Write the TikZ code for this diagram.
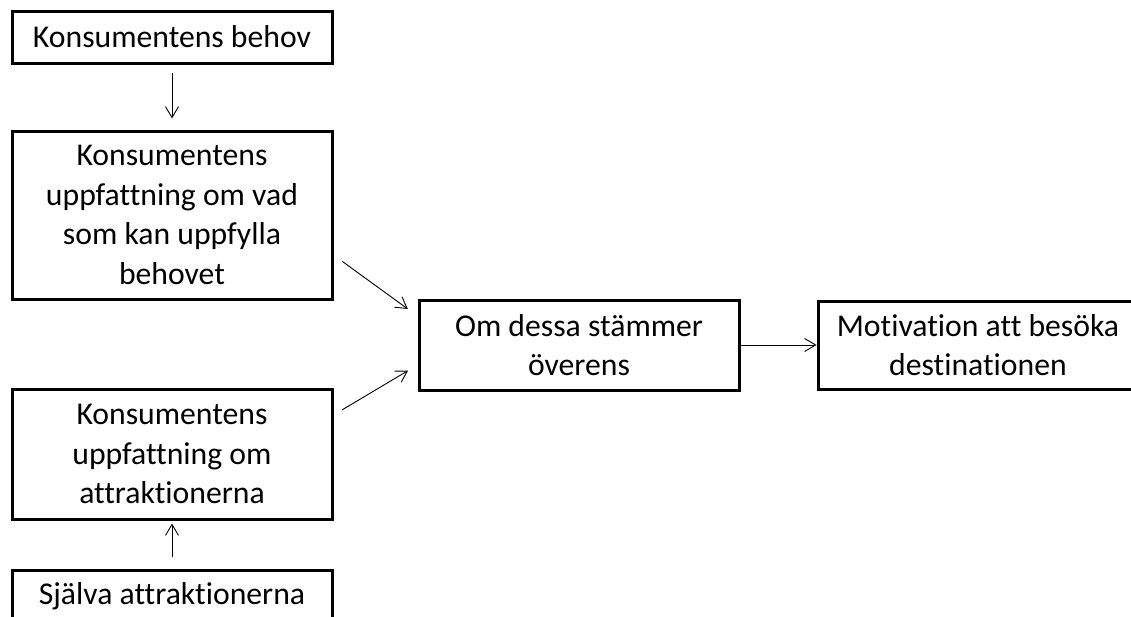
\documentclass[tikz,border=0pt]{standalone}
\usepackage{fontspec}
\setmainfont{Carlito}[Ligatures=NoCommon]
\usepackage{tikz}
\usetikzlibrary{arrows.meta,positioning}

\begin{document}
\begin{tikzpicture}[x=1pt,y=-1pt,
    ruta/.style={draw,line width=3pt,minimum width=320pt,inner sep=0pt,align=center,
      font=\fontsize{31.7}{39.5}\selectfont},
    pil/.style={-{Straight Barb[length=11pt,width=13pt]},line width=0.9pt}]
  \useasboundingbox (0,0) rectangle (1131,616);
  \clip (0,0) rectangle (1131,616);
  \node[ruta,minimum height=52pt] (behov) at (172,37) {Konsumentens behov};
  \node[ruta,minimum height=168pt] (uppf) at (172,215)
    {Konsumentens\\uppfattning om vad\\som kan uppfylla\\behovet};
  \node[ruta,minimum height=130pt] (attruppf) at (172,454)
    {Konsumentens\\uppfattning om\\attraktionerna};
  \node[ruta,minimum height=52pt] (attr) at (172,596) {Själva attraktionerna};
  \node[ruta,minimum height=90pt] (overens) at (579,345) {Om dessa stämmer\\överens};
  \node[ruta,minimum height=88pt] (motiv) at (978,345) {Motivation att besöka\\destinationen};
  % pilar
  \draw[pil,shorten <=8pt,shorten >=11pt] (behov.south) -- (uppf.north);
  \draw[pil,shorten <=12pt,shorten >=3pt] (attr.north) -- (attruppf.south);
  \draw[pil,shorten <=11pt,shorten >=12pt] ([yshift=-40pt]uppf.east) -- ([yshift=29pt]overens.west);
  \draw[pil,shorten <=10pt,shorten >=11pt] ([yshift=39pt]attruppf.east) -- ([yshift=-20pt]overens.west);
  \draw[pil] (overens.east) -- (motiv.west);
\end{tikzpicture}
\end{document}
